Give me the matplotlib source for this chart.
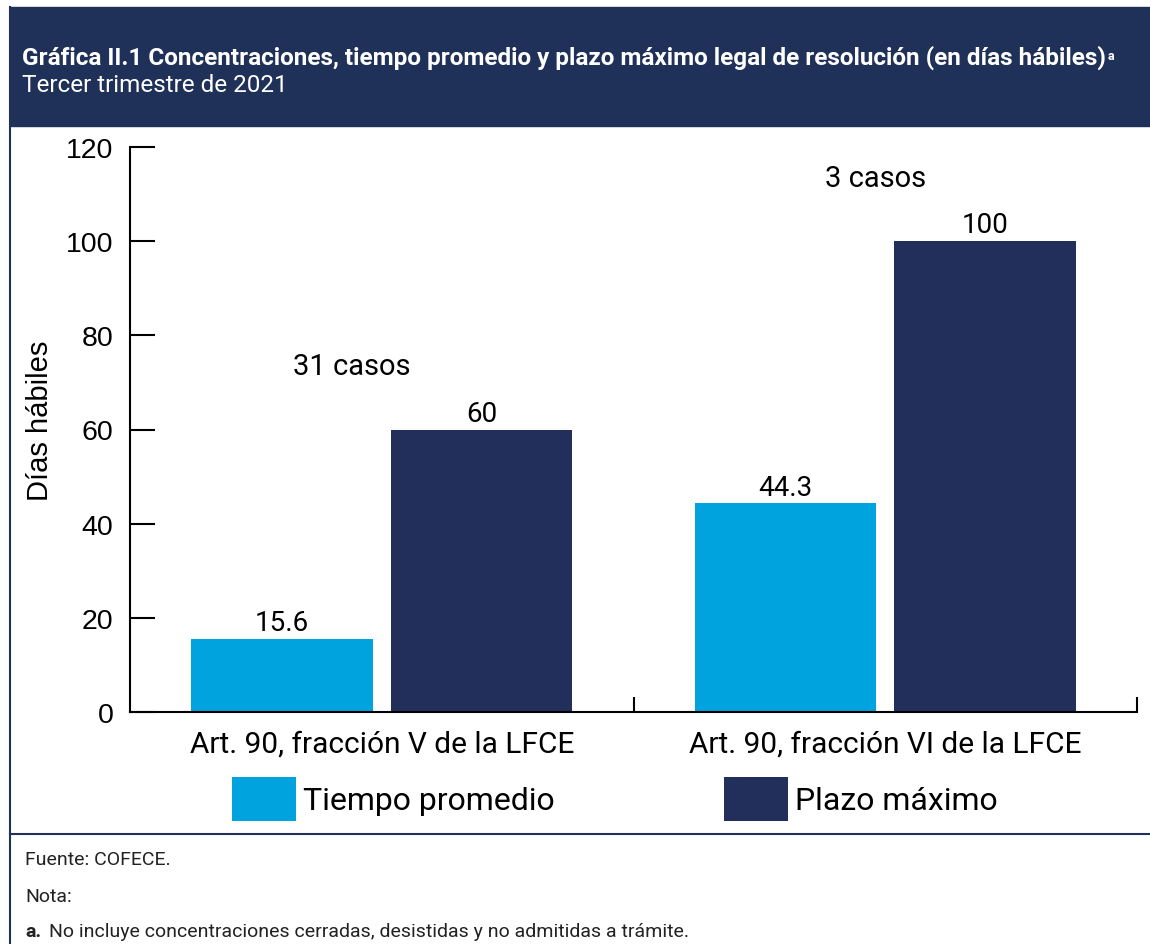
import numpy as np
import matplotlib
matplotlib.use('Agg')
import matplotlib.pyplot as plt
from matplotlib.patches import Rectangle
from matplotlib.lines import Line2D

plt.rcParams['font.family'] = ['Roboto', 'DejaVu Sans']

# datos de la gráfica
categorias = ['Art. 90, fracción V de la LFCE', 'Art. 90, fracción VI de la LFCE']
tiempo_promedio = [15.6, 44.3]
plazo_maximo = [60, 100]
casos = [31, 3]
etiquetas_tiempo = ['15.6', '44.3']
etiquetas_plazo = ['60', '100']
series = ['Tiempo promedio', 'Plazo máximo']
yticks = [0, 20, 40, 60, 80, 100, 120]

titulo = 'Gráfica II.1 Concentraciones, tiempo promedio y plazo máximo legal de resolución (en días hábiles)'
subtitulo = 'Tercer trimestre de 2021'
fuente = 'Fuente: COFECE.'
nota = 'Nota:'
nota_a = 'No incluye concentraciones cerradas, desistidas y no admitidas a trámite.'

azul_claro = '#00a3de'
azul_oscuro = '#232f5b'
marino = '#1f3158'

W, H = 1150, 945
fig = plt.figure(figsize=(W / 100, H / 100), dpi=100)

# encabezado y marco
fig.patches.append(Rectangle((10 / W, 1 - 127 / H), 1 - 10 / W, 119 / H,
                             transform=fig.transFigure, color=marino, zorder=-1))
fig.lines.append(Line2D([10 / W, 10 / W], [0, 1 - 8 / H], transform=fig.transFigure,
                        color=marino, lw=1.5))
fig.lines.append(Line2D([10 / W, 1], [1 - 835 / H] * 2, transform=fig.transFigure,
                        color=marino, lw=1.5))

# gráfica
ax = fig.add_axes([130 / W, 1 - 713 / H, 1007 / W, 565 / H])

t = fig.text(22 / W, 1 - 58 / H, titulo, color='white', fontsize=17.5,
             fontweight='bold', va='center', ha='left')
fig.text(22 / W, 1 - 86 / H, subtitulo, color='white', fontsize=17.5,
         va='center', ha='left')
ax.annotate('a', xy=(1, 1), xycoords=t, xytext=(1.5, -3), textcoords='offset points',
            color='white', fontsize=9, fontweight='bold', va='top', ha='left', zorder=5)

# pie
fig.text(25 / W, 1 - 860 / H, fuente, fontsize=14, va='center', color='#222222')
fig.text(25 / W, 1 - 897 / H, nota, fontsize=14, va='center', color='#222222')
ta = fig.text(25 / W, 1 - 932 / H, 'a.', fontsize=14, fontweight='bold',
              va='center', color='#222222')
ax.annotate(nota_a, xy=(1, 0.5), xycoords=ta, xytext=(6, 0), textcoords='offset points',
            fontsize=14, va='center', ha='left', color='#222222')

x = np.arange(len(categorias))
ancho = 0.36
b1 = ax.bar(x - 0.198, tiempo_promedio, ancho, color=azul_claro, label=series[0])
b2 = ax.bar(x + 0.198, plazo_maximo, ancho, color=azul_oscuro, label=series[1])

for barras, etiquetas in [(b1, etiquetas_tiempo), (b2, etiquetas_plazo)]:
    for rect, lab in zip(barras, etiquetas):
        ax.annotate(lab, xy=(rect.get_x() + rect.get_width() / 2, rect.get_height()),
                    xytext=(0, 2), textcoords='offset points', ha='center', va='bottom',
                    fontsize=20)

# posición horizontal de las notas de casos respecto al centro del grupo
desplaza_casos = [-0.06, -0.02]
for i, n in enumerate(casos):
    tope = max(tiempo_promedio[i], plazo_maximo[i])
    ax.text(i + desplaza_casos[i], tope + 13.5, f'{n} casos', ha='center', va='center',
            fontsize=21)

ax.set_xlim(-0.5, 1.5)
ax.set_ylim(0, 120)
ax.set_yticks(yticks)
ax.set_ylabel('Días hábiles', fontsize=21, family='Liberation Sans')
ax.yaxis.set_label_coords(-0.075, 0.517)
ax.tick_params(axis='y', direction='in', length=18, width=1.5, pad=12, labelsize=20.5,
               labelfontfamily='Liberation Sans')

ax.set_xticks([0.5, 1.5])
ax.set_xticklabels([])
ax.tick_params(axis='x', which='major', direction='in', length=11, width=1.5)
ax.set_xticks(x, categorias, minor=True)
ax.tick_params(axis='x', which='minor', length=0, pad=13, labelsize=21.5)

ax.spines['top'].set_visible(False)
ax.spines['right'].set_visible(False)
ax.spines['left'].set_linewidth(1.5)
ax.spines['bottom'].set_linewidth(1.5)

ax.legend(loc='center left', bbox_to_anchor=(232 / W, 1 - 800 / H),
          bbox_transform=fig.transFigure, ncol=2, frameon=False, borderpad=0,
          borderaxespad=0, handlelength=2.0, handleheight=1.72, handletextpad=0.22,
          columnspacing=5.3, fontsize=23)

plt.savefig('out.png', dpi=100)
